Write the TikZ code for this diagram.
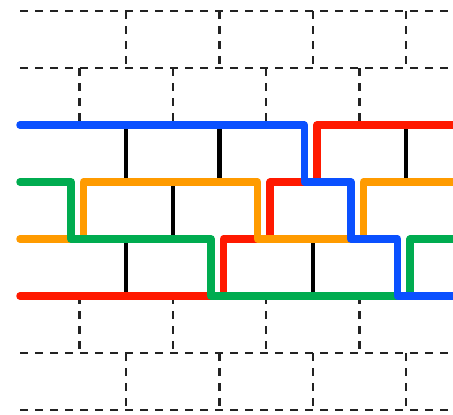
\documentclass[tikz,border=0pt]{standalone}
\usetikzlibrary{calc}
\definecolor{cblue}{RGB}{10,80,255}
\definecolor{cred}{RGB}{255,25,0}
\definecolor{corange}{RGB}{255,155,0}
\definecolor{cgreen}{RGB}{0,172,80}
\definecolor{cdash}{RGB}{34,34,34}
\tikzset{
  gridline/.style={draw=cdash,line width=0.9pt,dash pattern=on 3.3pt off 2.7pt},
  rung/.style={draw=black,line width=1.8pt},
  strand/.style={line width=3pt,line join=round,line cap=round}
}
\begin{document}
\begin{tikzpicture}[x=0.4pt,y=-0.4pt]
\useasboundingbox (0,0) rectangle (453,414);
\clip (0,0) rectangle (453,414);
% dashed horizontals
\foreach \yy in {11,68,353,410}
  \draw[gridline] (20,\yy) -- (470,\yy);
% dashed verticals
\foreach \xx in {126.2,219.5,312.8,406.1} {
  \draw[gridline] (\xx,11) -- (\xx,68);
  \draw[gridline] (\xx,353) -- (\xx,410);
}
\foreach \xx in {79.5,172.8,266.1,359.4} {
  \draw[gridline] (\xx,68) -- (\xx,125);
  \draw[gridline] (\xx,296) -- (\xx,353);
}
% black rungs
\foreach \xx in {126.2,219.5,406.1}
  \draw[rung] (\xx,125) -- (\xx,182);
\draw[rung] (172.8,182) -- (172.8,239);
\foreach \xx in {126.2,312.8}
  \draw[rung] (\xx,239) -- (\xx,296);
% strands
\draw[strand,cred] (20,296) -- (223.5,296) -- (223.5,239) -- (270.1,239) -- (270.1,182) -- (316.8,182) -- (316.8,125) -- (480,125);
\draw[strand,corange] (20,239) -- (83.5,239) -- (83.5,182) -- (257.6,182) -- (257.6,239) -- (363.4,239) -- (363.4,182) -- (480,182);
\draw[strand,cgreen] (20,182) -- (71,182) -- (71,239) -- (211,239) -- (211,296) -- (410.1,296) -- (410.1,239) -- (480,239);
\draw[strand,cblue] (20,125) -- (304.3,125) -- (304.3,182) -- (350.9,182) -- (350.9,239) -- (397.6,239) -- (397.6,296) -- (480,296);
\end{tikzpicture}
\end{document}
